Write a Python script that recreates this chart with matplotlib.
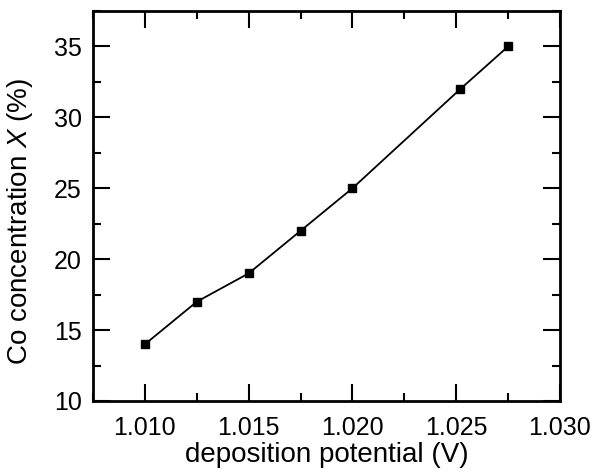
import matplotlib
matplotlib.use("Agg")
import matplotlib.pyplot as plt
from matplotlib.ticker import MultipleLocator

plt.rcParams['font.family'] = ['Liberation Sans', 'DejaVu Sans']
plt.rcParams['mathtext.fontset'] = 'custom'
plt.rcParams['mathtext.it'] = 'Liberation Sans:italic'

# potentiel (V) og Co-konsentrasjon (%)
potensial = [1.010, 1.0125, 1.015, 1.0175, 1.020, 1.0252, 1.0275]
konsentrasjon = [14, 17, 19, 22, 25, 32, 35]

fig = plt.figure(figsize=(5.93, 4.76), dpi=100)
ax = fig.add_axes([93/593, 1 - 401/476, 467/593, 390/476])

ax.plot(potensial, konsentrasjon, color='black', lw=1.3, marker='s', ms=5.5)

ax.set_xlim(1.0075, 1.030)
ax.set_ylim(10, 37.5)
ax.xaxis.set_major_locator(MultipleLocator(0.005))
ax.xaxis.set_minor_locator(MultipleLocator(0.0025))
ax.yaxis.set_major_locator(MultipleLocator(5))
ax.yaxis.set_minor_locator(MultipleLocator(2.5))
ax.xaxis.set_major_formatter(plt.FormatStrFormatter('%.3f'))

for s in ax.spines.values():
    s.set_linewidth(2)
ax.tick_params(which='both', direction='in', top=True, right=True, width=1.5, labelsize=18)
ax.tick_params(which='major', length=12)
ax.tick_params(which='minor', length=6)
ax.tick_params(axis='x', pad=11)
ax.tick_params(axis='y', pad=8)

ax.set_xlabel("deposition potential (V)", fontsize=20, labelpad=1)
ax.set_ylabel("Co concentration $X$ (%)", fontsize=20)
ax.yaxis.set_label_coords(-0.124, 0.46)

fig.savefig("out.png", dpi=100)
